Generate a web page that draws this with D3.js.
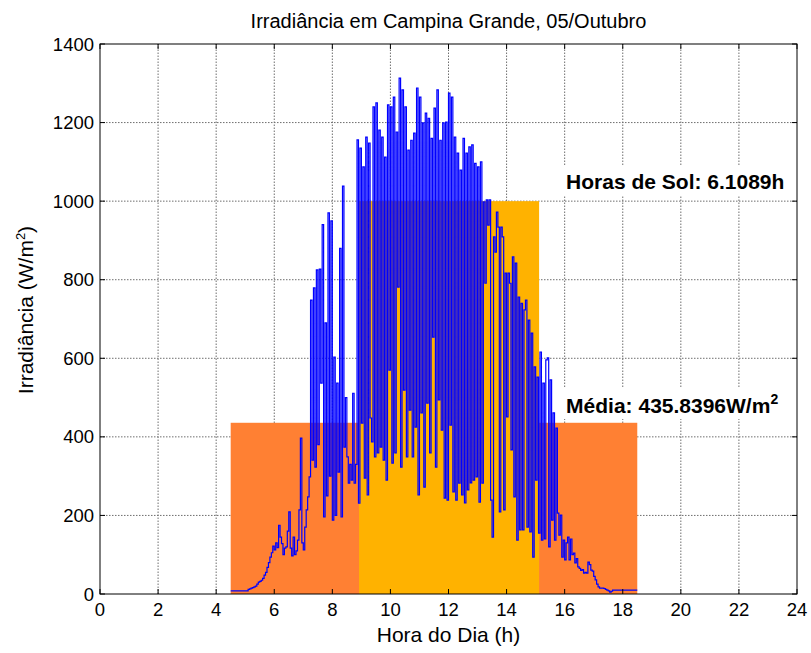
<!DOCTYPE html>
<html><head><meta charset="utf-8">
<script src="https://cdn.jsdelivr.net/npm/d3@7"></script>
<style>
body{margin:0;background:#fff}
text{font-family:"Liberation Sans",Arial,Helvetica,sans-serif;fill:#000}
</style>
</head><body><svg id="c" width="811" height="653"></svg>
<script>
const xTicks=[0,2,4,6,8,10,12,14,16,18,20,22,24];
const yTicks=[0,200,400,600,800,1000,1200,1400];
const startHour=4.5, stepHour=0.05;
const irradiance=[
8,8,8,8,8,8,8,8,8,8,
8,8,12,13,15,16,18,20,25,30,
32,35,40,48,55,68,80,94,105,122,
112,130,118,175,145,128,100,117,120,160,
209,117,97,145,100,110,137,214,397,130,
112,170,214,247,298,748,341,779,323,825,
380,827,537,940,196,690,250,970,300,950,
188,603,200,537,310,880,196,1038,374,500,
349,282,330,290,511,282,330,1156,231,1135,
435,1087,295,1163,252,1148,448,387,1240,349,
1250,359,1181,374,1163,341,1112,290,1245,570,
1240,333,1265,359,1176,781,1313,323,1283,519,
1240,349,1130,468,1155,349,1173,425,1288,252,
1265,461,1199,272,1224,486,1211,359,1160,654,
1237,323,1283,494,1155,417,1199,244,1201,239,
1275,430,1265,260,1163,239,1122,282,1079,252,
1160,232,1122,265,1138,283,1143,290,1096,298,
1087,234,1100,282,998,791,1003,939,1003,239,
145,909,870,972,934,209,934,909,214,817,
451,817,791,367,858,247,842,137,756,163,
740,163,723,748,170,697,158,664,94,578,
290,552,155,616,137,537,140,596,601,120,
545,188,461,137,422,206,150,201,94,137,
87,130,145,87,140,100,104,79,90,69,
65,60,62,53,55,53,81,75,61,58,
45,36,25,18,15,15,15,14,12,10,
8,5,7,10,10,10,10,10,10,10,
10,10,10,10,10,10,10,10,10,10,10
];
const meanBar={start:4.5,end:18.5,value:435.8396};
const sunBar={start:8.92,end:15.12,value:1000};
const titleText="Irradiância em Campina Grande, 05/Outubro";
const xLabel="Hora do Dia (h)";
const sunLabel="Horas de Sol: 6.1089h";
const meanLabel="Média: 435.8396W/m";

const W=811,H=653, m={l:100,r:14,t:44,b:59};
const svg=d3.select("#c");
const x=d3.scaleLinear().domain([0,24]).range([m.l,W-m.r]);
const y=d3.scaleLinear().domain([0,1400]).range([H-m.b,m.t]);
const series=irradiance.map((v,i)=>({h:startHour+i*stepHour,v}));

// grid
const g=svg.append("g");
g.selectAll(".gx").data(xTicks.slice(1,-1)).enter().append("line")
 .attr("x1",d=>x(d)).attr("x2",d=>x(d)).attr("y1",y(0)).attr("y2",y(1400))
 .attr("stroke","#6e6e6e").attr("stroke-dasharray","1.5,1.5").attr("stroke-width",1);
g.selectAll(".gy").data(yTicks.slice(1,-1)).enter().append("line")
 .attr("y1",d=>y(d)).attr("y2",d=>y(d)).attr("x1",x(0)).attr("x2",x(24))
 .attr("stroke","#6e6e6e").attr("stroke-dasharray","1.5,1.5").attr("stroke-width",1);

// bars
svg.append("rect").attr("x",x(meanBar.start)).attr("width",x(meanBar.end)-x(meanBar.start))
 .attr("y",y(meanBar.value)).attr("height",y(0)-y(meanBar.value)).attr("fill","#FF8033");
svg.append("rect").attr("x",x(sunBar.start)).attr("width",x(sunBar.end)-x(sunBar.start))
 .attr("y",y(sunBar.value)).attr("height",y(0)-y(sunBar.value)).attr("fill","#FFB200");

// line
svg.append("path").datum(series).attr("fill","none").attr("stroke","#0000ff").attr("stroke-width",1.2)
 .attr("d",d3.line().curve(d3.curveStepAfter).x(d=>x(d.h)).y(d=>y(d.v)));

// annotations with white boxes
function boxedText(px,py,parts){
  const t=svg.append("text").attr("x",px).attr("y",py).attr("font-size",21).attr("font-weight","bold");
  parts.forEach(p=>{const s=t.append("tspan").text(p.t); if(p.sup){s.attr("font-size",14).attr("dy",-9);} });
  const bb=t.node().getBBox();
  svg.insert("rect",()=>t.node()).attr("x",bb.x-6).attr("y",bb.y-4).attr("width",bb.width+12).attr("height",bb.height+6).attr("fill","#fff");
}
boxedText(x(16.05),189,[{t:sunLabel}]);
boxedText(x(16.05),413,[{t:meanLabel},{t:"2",sup:true}]);

// axes box
const ax=svg.append("g");
ax.append("rect").attr("x",x(0)).attr("y",y(1400)).attr("width",x(24)-x(0)).attr("height",y(0)-y(1400))
 .attr("fill","none").attr("stroke","#000").attr("stroke-width",1);
const tl=5;
xTicks.forEach(d=>{
  ax.append("line").attr("x1",x(d)).attr("x2",x(d)).attr("y1",y(0)).attr("y2",y(0)-tl).attr("stroke","#000");
  ax.append("line").attr("x1",x(d)).attr("x2",x(d)).attr("y1",y(1400)).attr("y2",y(1400)+tl).attr("stroke","#000");
});
yTicks.forEach(d=>{
  ax.append("line").attr("y1",y(d)).attr("y2",y(d)).attr("x1",x(0)).attr("x2",x(0)+tl).attr("stroke","#000");
  ax.append("line").attr("y1",y(d)).attr("y2",y(d)).attr("x1",x(24)).attr("x2",x(24)-tl).attr("stroke","#000");
});
ax.selectAll(".xt").data(xTicks).enter().append("text").attr("x",d=>x(d)).attr("y",616)
 .attr("text-anchor","middle").attr("font-size",18.5).text(d=>d);
ax.selectAll(".yt").data(yTicks).enter().append("text").attr("x",x(0)-6).attr("y",d=>y(d)+6.5)
 .attr("text-anchor","end").attr("font-size",18.5).text(d=>d);

svg.append("text").attr("x",(x(0)+x(24))/2).attr("y",28).attr("text-anchor","middle").attr("font-size",20).text(titleText);
svg.append("text").attr("x",(x(0)+x(24))/2).attr("y",642).attr("text-anchor","middle").attr("font-size",21).text(xLabel);
const yl=svg.append("text").attr("transform","translate(33,310) rotate(-90)").attr("text-anchor","middle").attr("font-size",21);
yl.append("tspan").text("Irradiância (W/m");
yl.append("tspan").text("2").attr("font-size",13).attr("dy",-8);
yl.append("tspan").text(")").attr("dy",8);
</script></body></html>
